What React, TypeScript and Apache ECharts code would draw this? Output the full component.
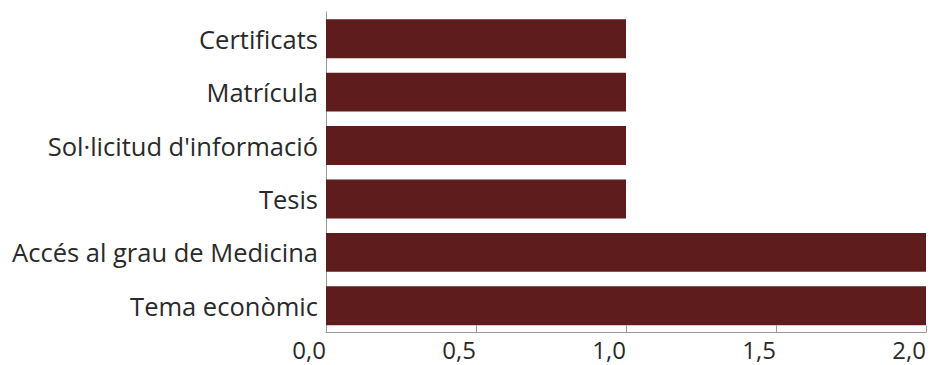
import React, { useEffect, useRef } from "react";
import * as echarts from "echarts";

const categories = [
  "Tema econòmic",
  "Accés al grau de Medicina",
  "Tesis",
  "Sol·licitud d'informació",
  "Matrícula",
  "Certificats",
];
const values = [2, 2, 1, 1, 1, 1];
const xTicks = [0, 0.5, 1, 1.5, 2];

export default function App() {
  const ref = useRef<HTMLDivElement>(null);
  useEffect(() => {
    if (!ref.current) return;
    document.body.style.margin = "0";
    document.documentElement.style.overflow = "hidden";
    const chart = echarts.init(ref.current, null, {
      renderer: "svg",
      width: 930,
      height: 365,
    });
    chart.setOption({
      animation: false,
      backgroundColor: "#ffffff",
      grid: {
        left: 326,
        right: 4,
        top: 12,
        bottom: 32.5,
        containLabel: false,
        outerBoundsMode: "none",
      },
      xAxis: {
        type: "value",
        min: xTicks[0],
        max: xTicks[xTicks.length - 1],
        interval: 0.5,
        splitLine: { show: false },
        axisLine: { show: true, lineStyle: { color: "#9a9a9a", width: 1 } },
        axisTick: {
          show: true,
          inside: true,
          length: 7,
          lineStyle: { color: "#9a9a9a" },
        },
        axisLabel: {
          color: "#2a2a2a",
          fontSize: 24,
          fontFamily: "Open Sans",
          margin: 5,
          align: "right",
          formatter: (v: number) => v.toFixed(1).replace(".", ","),
        },
      },
      yAxis: {
        type: "category",
        data: categories,
        axisLine: { show: true, lineStyle: { color: "#9a9a9a", width: 1 } },
        axisTick: { show: false },
        axisLabel: {
          color: "#2a2a2a",
          fontSize: 25.5,
          fontFamily: "Open Sans",
          margin: 8,
        },
      },
      series: [
        {
          type: "bar",
          data: values,
          barCategoryGap: "27%",
          itemStyle: { color: "#5e1c1c" },
        },
      ],
    });
    return () => chart.dispose();
  }, []);
  return (
    <div
      ref={ref}
      style={{ position: "absolute", left: 0, top: 0, width: 930, height: 365 }}
    />
  );
}
